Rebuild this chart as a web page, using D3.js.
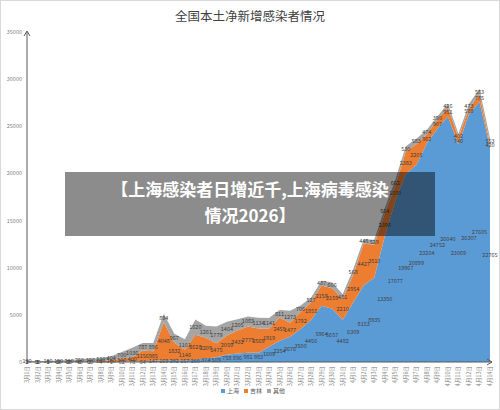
<!DOCTYPE html>
<html><head><meta charset="utf-8">
<script src="https://cdn.jsdelivr.net/npm/d3@7/dist/d3.min.js"></script>
<style>body{margin:0;background:#fff;font-family:"Noto Sans CJK SC",sans-serif}</style>
</head><body><svg id="c" width="500" height="410"></svg>
<script>
// dates 3月1日..4月14日
var dates = [];
for (var i=1;i<=31;i++) dates.push("3月"+i+"日");
for (var i=1;i<=14;i++) dates.push("4月"+i+"日");

var shanghai = [2,1,3,3,2,3,3,4,5,62,78,64,147,169,202,157,260,374,509,758,896,981,983,1609,2254,2676,3500,4456,5964,5657,4482,6309,8153,8935,13350,17077,19967,20899,23204,24752,26040,23069,26307,27605,22765];
var jilin = [2,3,5,10,20,40,60,100,200,300,400,1156,985,4048,1832,1146,2628,2209,1475,2059,2432,2775,2569,1919,2455,1477,1792,1855,2158,2159,2210,2954,4427,3510,2398,1600,2383,2205,962,907,951,740,588,785,420];
var other = [100,80,100,150,200,250,300,330,404,700,1036,787,896,894,967,1101,1620,1261,1779,1464,1205,1083,1134,1141,811,1273,706,527,487,606,481,568,448,529,564,662,530,583,474,390,426,402,473,583,553];
var seriesNames = ["上海","吉林","其他"];
var colors = ["#5b9bd5","#ed7d31","#a5a5a5"];
var yTicks = [0,5000,10000,15000,20000,25000,30000,35000];

var rows = dates.map(function(d,i){return {date:d,"上海":shanghai[i],"吉林":jilin[i],"其他":other[i]};});
var stacked = d3.stack().keys(seriesNames)(rows);

var svg = d3.select("#c");
svg.append("rect").attr("x",0.5).attr("y",0.5).attr("width",499).attr("height",409)
   .attr("fill","#fff").attr("stroke","#d9d9d9");

var x = d3.scalePoint().domain(dates).range([27,490]);
var y = d3.scaleLinear().domain([0,35000]).range([362,32]);

var area = d3.area().x(function(d){return x(d.data.date);})
  .y0(function(d){return y(d[0]);}).y1(function(d){return y(d[1]);});

svg.selectAll(".layer").data(stacked).enter().append("path")
  .attr("d",area).attr("fill",function(d,i){return colors[i];});

// data labels, centred in each band
stacked.forEach(function(s){
  svg.append("g").selectAll("text").data(s).enter().append("text")
    .attr("x",function(d){return x(d.data.date);})
    .attr("y",function(d){return y((d[0]+d[1])/2)+2;})
    .attr("text-anchor","middle").attr("font-size",5.5).attr("fill","#404040")
    .text(function(d){return d[1]-d[0];});
});

// axes
svg.append("line").attr("x1",27).attr("x2",27).attr("y1",362).attr("y2",32).attr("stroke","#595959");
svg.append("path").attr("d","M24,36 L27,31 L30,36").attr("fill","none").attr("stroke","#595959");
svg.append("line").attr("x1",27).attr("x2",492).attr("y1",362).attr("y2",362).attr("stroke","#595959");
svg.append("path").attr("d","M487,359 L492,362 L487,365").attr("fill","none").attr("stroke","#595959");

svg.append("g").selectAll("text").data(yTicks).enter().append("text")
  .attr("x",22).attr("y",function(d){return y(d)+2;}).attr("text-anchor","end")
  .attr("font-size",5.5).attr("fill","#7f7f7f").text(function(d){return d;});

svg.append("g").selectAll("text").data(dates).enter().append("text")
  .attr("transform",function(d){return "translate("+(x(d)+2)+",366) rotate(-90)";})
  .attr("text-anchor","end").attr("font-size",5.5).attr("fill","#7f7f7f").text(function(d){return d;});

svg.append("text").attr("x",250).attr("y",21).attr("text-anchor","middle")
  .attr("font-size",12.5).attr("fill","#404040").text("全国本土净新增感染者情况");

// legend
var lg = svg.append("g").selectAll("g").data(seriesNames).enter().append("g")
  .attr("transform",function(d,i){return "translate("+(221+i*23)+",393)";});
lg.append("rect").attr("x",0).attr("y",-4).attr("width",4).attr("height",4).attr("fill",function(d,i){return colors[i];});
lg.append("text").attr("x",6).attr("y",0).attr("font-size",6).attr("fill","#595959").text(function(d){return d;});

// overlay
svg.append("rect").attr("x",65).attr("y",172).attr("width",370).attr("height",64).attr("fill","rgba(0,0,0,0.45)");
svg.append("text").attr("x",250).attr("y",196).attr("text-anchor","middle").attr("font-size",17)
  .attr("font-weight","bold").attr("fill","#fff").text("【上海感染者日增近千,上海病毒感染");
svg.append("text").attr("x",250).attr("y",222).attr("text-anchor","middle").attr("font-size",17)
  .attr("font-weight","bold").attr("fill","#fff").text("情况2026】");
</script></body></html>
